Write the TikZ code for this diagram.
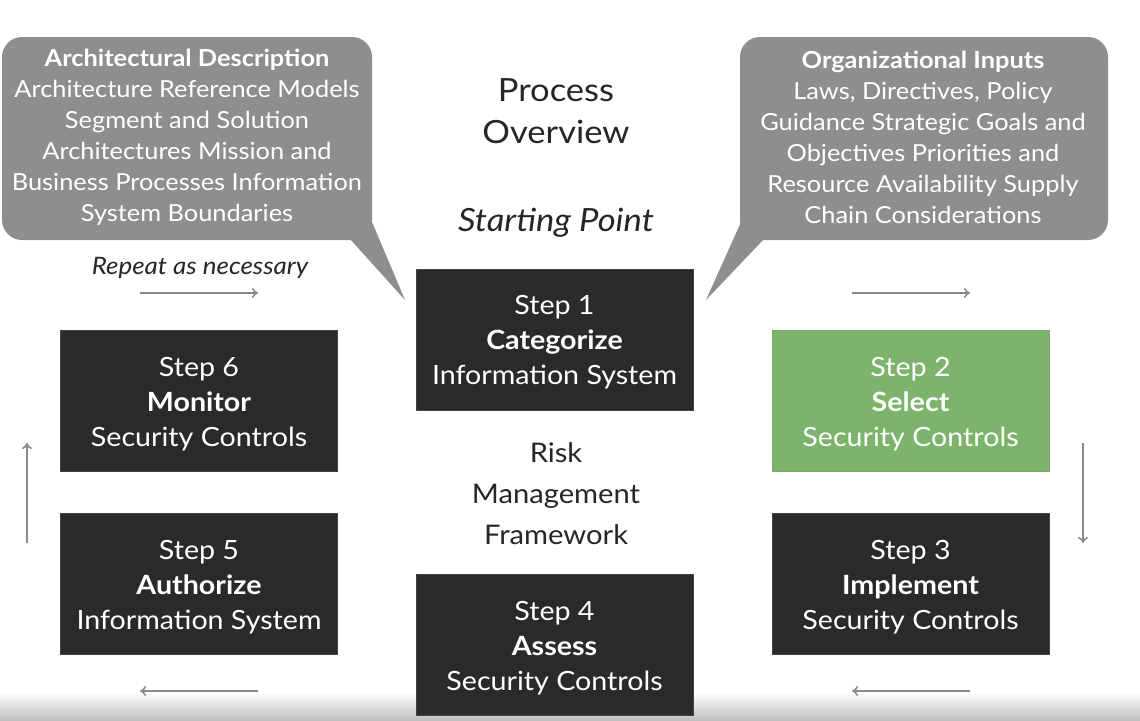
\documentclass[tikz,border=0pt]{standalone}
\usepackage{fontspec}
\setmainfont{Lato}[FakeStretch=1.08]
\usetikzlibrary{arrows.meta}
\definecolor{boxdark}{HTML}{2A2A2A}
\definecolor{boxgreen}{HTML}{7DB46B}
\definecolor{callgray}{HTML}{8E8E8E}
\definecolor{arrowgray}{HTML}{8A8A8A}
\tikzset{
  stepbox/.style={draw=#1!70!gray, line width=0.8pt, fill=#1, text=white, minimum width=277pt, minimum height=141pt,
    align=center, inner sep=0pt, font=\fontsize{26.5}{35}\selectfont},
  calltext/.style={text=white, align=center, inner sep=0pt, font=\fontsize{23.5}{31}\selectfont},
  flowarrow/.style={draw=arrowgray, line width=1.6pt, -{To[length=6pt,width=10pt]}},
  plaintext/.style={text=black!85, align=center, inner sep=0pt}
}
\newcommand{\lift}{\rule{0pt}{25pt}}
\begin{document}
\begin{tikzpicture}[x=1pt,y=-1pt]
\useasboundingbox (0,0) rectangle (1140,720);
\fill[white] (0,0) rectangle (1140,720);
\shade[top color=white, bottom color=black!25] (0,692) rectangle (1140,720);

% callouts
\fill[callgray, rounded corners=20pt] (2,37) rectangle (372,240);
\fill[callgray] (350,239) -- (372,222) -- (405,300) -- cycle;
\fill[callgray, rounded corners=20pt] (740,37) rectangle (1108,240);
\fill[callgray] (741,222) -- (764,239) -- (706,300) -- cycle;

\node[calltext] (archdesc) at (187,137.5) {\textbf{Architectural Description}\\Architecture Reference Models\\Segment and Solution\\Architectures Mission and\\Business Processes Information\\System Boundaries};
\node[calltext] (orginputs) at (923,137.5) {\textbf{Organizational Inputs}\\Laws, Directives, Policy\\Guidance Strategic Goals and\\Objectives Priorities and\\Resource Availability Supply\\Chain Considerations};

% titles
\node[plaintext, font=\fontsize{32}{42}\selectfont] (title) at (556,111) {Process\\Overview};
\node[plaintext, font=\fontsize{32}{34}\selectfont\itshape] (start) at (556,223) {Starting Point};
\node[plaintext, font=\fontsize{27}{41}\selectfont] (rmf) at (556,494) {Risk\\Management\\Framework};
\node[plaintext, font=\fontsize{24}{26}\selectfont\itshape] (repeat) at (200,268) {Repeat as necessary};

% steps
\node[stepbox=boxdark] (s1) at (554.5,339.5) {\lift Step 1\\\textbf{Categorize}\\Information System};
\node[stepbox=boxgreen] (s2) at (910.5,401) {\lift Step 2\\\textbf{Select}\\Security Controls};
\node[stepbox=boxdark] (s3) at (910.5,584) {\lift Step 3\\\textbf{Implement}\\Security Controls};
\node[stepbox=boxdark] (s4) at (554.5,645) {\lift Step 4\\\textbf{Assess}\\Security Controls};
\node[stepbox=boxdark] (s5) at (199,584) {\lift Step 5\\\textbf{Authorize}\\Information System};
\node[stepbox=boxdark] (s6) at (199,401) {\lift Step 6\\\textbf{Monitor}\\Security Controls};

% arrows
\coordinate (a1s) at (140,293); \coordinate (a1e) at (258,293);
\coordinate (a2s) at (852,293); \coordinate (a2e) at (970,293);
\coordinate (a3s) at (1083,443); \coordinate (a3e) at (1083,543);
\coordinate (a4s) at (970,691); \coordinate (a4e) at (852,691);
\coordinate (a5s) at (258,691); \coordinate (a5e) at (140,691);
\coordinate (a6s) at (27,543); \coordinate (a6e) at (27,443);
\draw[flowarrow] (a1s) -- (a1e);
\draw[flowarrow] (a2s) -- (a2e);
\draw[flowarrow] (a3s) -- (a3e);
\draw[flowarrow] (a4s) -- (a4e);
\draw[flowarrow] (a5s) -- (a5e);
\draw[flowarrow] (a6s) -- (a6e);
\end{tikzpicture}
\end{document}
